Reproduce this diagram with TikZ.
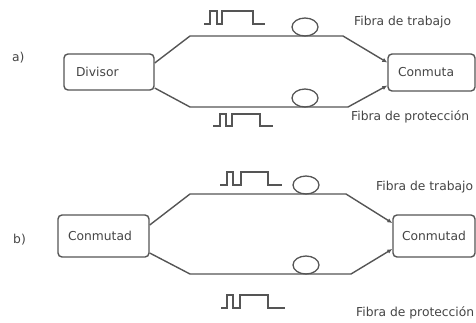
\documentclass[tikz,border=0pt]{standalone}
\usepackage{fontspec}
\setmainfont{DejaVu Sans}
\usetikzlibrary{arrows.meta}
\definecolor{ln}{HTML}{555555}
\definecolor{tx}{HTML}{444444}
\begin{document}
\begin{tikzpicture}[x=1pt,y=-1pt,
  box/.style={draw=ln, line width=1.4pt, rectangle, rounded corners=4pt, align=left,
    inner ysep=0pt, font=\fontsize{12.3}{14}\selectfont, text=tx},
  fiber/.style={draw=ln, line width=1.4pt},
  fibarrow/.style={fiber, -{Latex[length=5pt,width=4.5pt]}},
  coil/.style={draw=ln, line width=1.3pt},
  pulse/.style={draw=ln, line width=1.3pt},
  lbl/.style={font=\fontsize{12.3}{14}\selectfont, text=tx, anchor=west, inner sep=0pt}]
\useasboundingbox (0,0) rectangle (476,322);

% ---------- a) ----------
\node[lbl] (la) at (12,58) {a)};
\node[box, inner xsep=12pt, text width=66pt, minimum height=36pt] (div) at (109,72) {Divisor};
\node[box, inner xsep=10pt, text width=67pt, minimum height=37pt] (conA) at (431.5,72.5) {Conmuta};

\coordinate (a1) at (190,36);
\coordinate (a2) at (343,36);
\coordinate (a3) at (190,107);
\coordinate (a4) at (348,107);
\draw[fibarrow] ([yshift=9pt]div.east) -- (a1) -- (a2) -- ([yshift=10pt]conA.west);
\draw[fibarrow] ([yshift=-16pt]div.east) -- (a3) -- (a4) -- ([yshift=-13pt]conA.west);

\draw[coil] (305,27) ellipse [x radius=13, y radius=9];
\draw[coil] (305,98) ellipse [x radius=13, y radius=9];

\draw[pulse] (204,24) -- (210,24) -- (210,11) -- (217,11) -- (217,24) -- (222,24) -- (222,11) -- (253,11) -- (253,24) -- (265,24);
\draw[pulse] (213,126) -- (220,126) -- (220,114) -- (226,114) -- (226,126) -- (232,126) -- (232,114) -- (260,114) -- (260,126) -- (273,126);

\node[lbl] (ta) at (354,22) {Fibra de trabajo};
\node[lbl] (pa) at (351,117) {Fibra de protección};

% ---------- b) ----------
\node[lbl] (lb) at (13,240) {b)};
\node[box, inner xsep=10pt, text width=71pt, minimum height=42pt] (conL) at (103.5,236) {Conmutad};
\node[box, inner xsep=9pt, text width=64pt, minimum height=42pt] (conR) at (434,236) {Conmutad};

\coordinate (b1) at (190,194);
\coordinate (b2) at (346,194);
\coordinate (b3) at (190,274);
\coordinate (b4) at (351,274);
\draw[fibarrow] ([yshift=11pt]conL.east) -- (b1) -- (b2) -- ([yshift=13pt]conR.west);
\draw[fibarrow] ([yshift=-17pt]conL.east) -- (b3) -- (b4) -- ([yshift=-13pt]conR.west);

\draw[coil] (306,185) ellipse [x radius=13, y radius=9];
\draw[coil] (306,265) ellipse [x radius=13, y radius=9];

\draw[pulse] (220,185) -- (227,185) -- (227,172) -- (233,172) -- (233,185) -- (241,185) -- (241,172) -- (268,172) -- (268,185) -- (282,185);
\draw[pulse] (221,308) -- (227,308) -- (227,295) -- (233,295) -- (233,308) -- (240,308) -- (240,295) -- (268,295) -- (268,308) -- (285,308);

\node[lbl] (tb) at (376,187) {Fibra de trabajo};
\node[lbl] (pb) at (356,313) {Fibra de protección};
\end{tikzpicture}
\end{document}
